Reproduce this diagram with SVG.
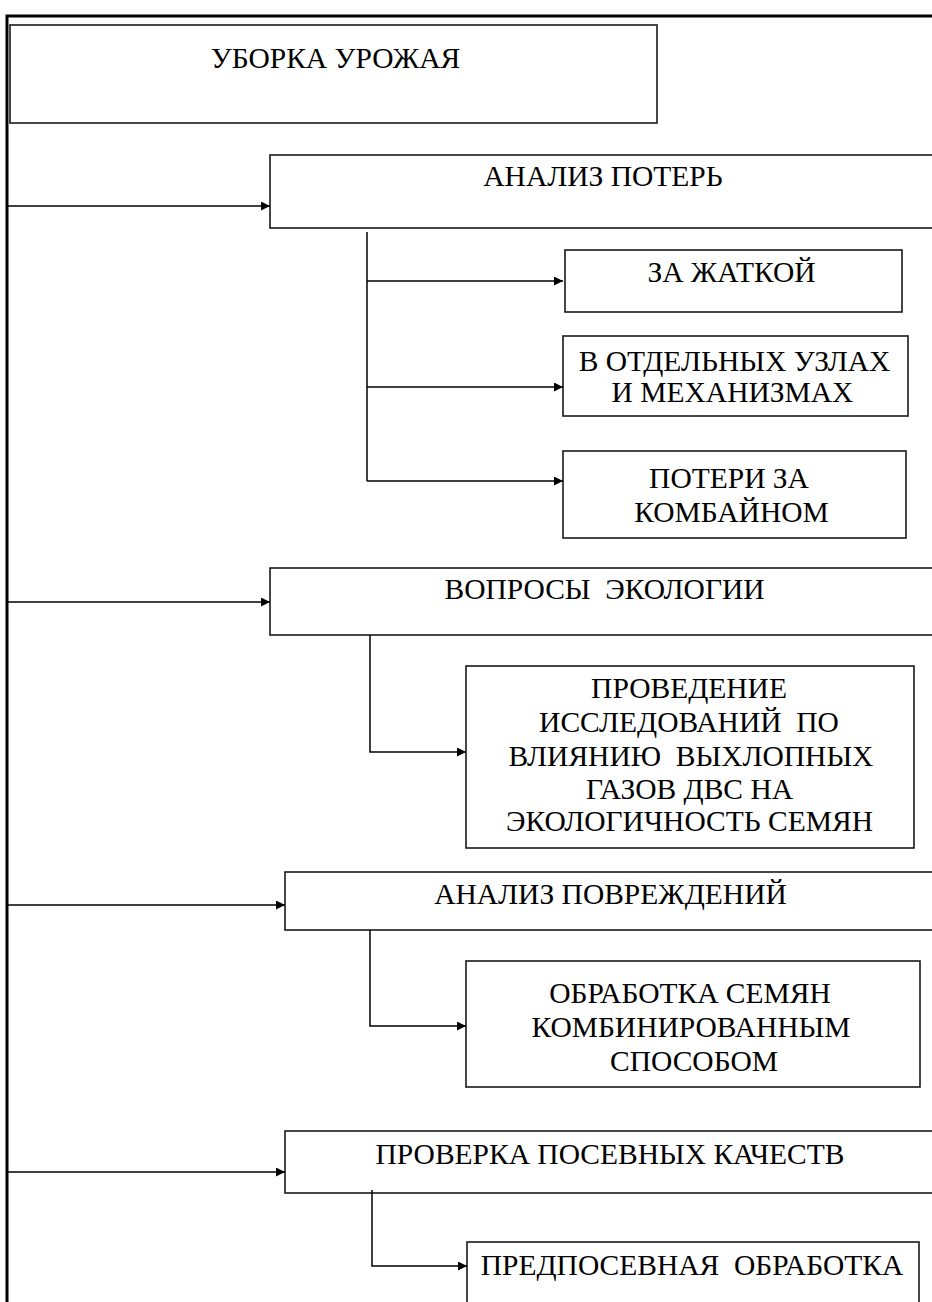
<svg xmlns="http://www.w3.org/2000/svg" width="932" height="1302" viewBox="0 0 932 1302">
<style>
.box{fill:#fff;stroke:#1a1a1a;stroke-width:1.6}
.t{font-family:"Liberation Serif","Times New Roman",serif;font-size:29.5px;fill:#000;text-anchor:middle;white-space:pre}
.c{fill:none;stroke:#000;stroke-width:1.5}
.frame{fill:none;stroke:#000;stroke-width:3}
</style>
<defs>
<marker id="ah" viewBox="0 0 10 10" refX="10" refY="5" markerWidth="9" markerHeight="9" markerUnits="userSpaceOnUse" orient="auto">
<path d="M0,0 L10,5 L0,10 z" fill="#000"/>
</marker>
</defs>
<rect width="932" height="1302" fill="#fff"/>
<path class="frame" d="M7,1302 V16 H932"/>
<g id="n1"><rect class="box" x="10" y="25" width="647" height="98"/><text class="t" x="335.5" y="68">УБОРКА УРОЖАЯ</text></g>
<g id="n2"><rect class="box" x="270" y="155" width="670" height="73"/><text class="t" x="603" y="186">АНАЛИЗ ПОТЕРЬ</text></g>
<g id="n3"><rect class="box" x="565" y="250" width="337" height="62"/><text class="t" x="731.5" y="282">ЗА ЖАТКОЙ</text></g>
<g id="n4"><rect class="box" x="563" y="336" width="345" height="80"/><text class="t" x="734.5" y="371">В ОТДЕЛЬНЫХ УЗЛАХ</text><text class="t" x="732.5" y="402">И МЕХАНИЗМАХ</text></g>
<g id="n5"><rect class="box" x="563" y="451" width="343" height="87"/><text class="t" x="729" y="488">ПОТЕРИ ЗА</text><text class="t" x="731.5" y="522">КОМБАЙНОМ</text></g>
<g id="n6"><rect class="box" x="270" y="568" width="670" height="67"/><text class="t" x="604.5" y="599">ВОПРОСЫ  ЭКОЛОГИИ</text></g>
<g id="n7"><rect class="box" x="466" y="666" width="448" height="182"/>
<text class="t" x="689" y="698">ПРОВЕДЕНИЕ</text>
<text class="t" x="689" y="732">ИССЛЕДОВАНИЙ  ПО</text>
<text class="t" x="691" y="766">ВЛИЯНИЮ  ВЫХЛОПНЫХ</text>
<text class="t" x="689.5" y="799">ГАЗОВ ДВС НА</text>
<text class="t" x="689.5" y="831">ЭКОЛОГИЧНОСТЬ СЕМЯН</text></g>
<g id="n8"><rect class="box" x="285" y="872" width="655" height="58"/><text class="t" x="610.5" y="904">АНАЛИЗ ПОВРЕЖДЕНИЙ</text></g>
<g id="n9"><rect class="box" x="466" y="961" width="454" height="126"/>
<text class="t" x="690" y="1003">ОБРАБОТКА СЕМЯН</text>
<text class="t" x="691" y="1037">КОМБИНИРОВАННЫМ</text>
<text class="t" x="694" y="1071">СПОСОБОМ</text></g>
<g id="n10"><rect class="box" x="285" y="1131" width="655" height="62"/><text class="t" x="610" y="1164">ПРОВЕРКА ПОСЕВНЫХ КАЧЕСТВ</text></g>
<g id="n11"><rect class="box" x="467" y="1242" width="452" height="70"/><text class="t" x="692" y="1275">ПРЕДПОСЕВНАЯ  ОБРАБОТКА</text></g>
<g id="connectors">
<path class="c" d="M7,206 H270" marker-end="url(#ah)"/>
<path class="c" d="M367,232 V481"/>
<path class="c" d="M367,281 H563" marker-end="url(#ah)"/>
<path class="c" d="M367,387 H563" marker-end="url(#ah)"/>
<path class="c" d="M367,481 H563" marker-end="url(#ah)"/>
<path class="c" d="M7,602 H270" marker-end="url(#ah)"/>
<path class="c" d="M370,635 V752 H466" marker-end="url(#ah)"/>
<path class="c" d="M7,905 H285" marker-end="url(#ah)"/>
<path class="c" d="M370,930 V1026 H466" marker-end="url(#ah)"/>
<path class="c" d="M7,1172 H285" marker-end="url(#ah)"/>
<path class="c" d="M372,1190 V1266 H467" marker-end="url(#ah)"/>
</g>
</svg>
